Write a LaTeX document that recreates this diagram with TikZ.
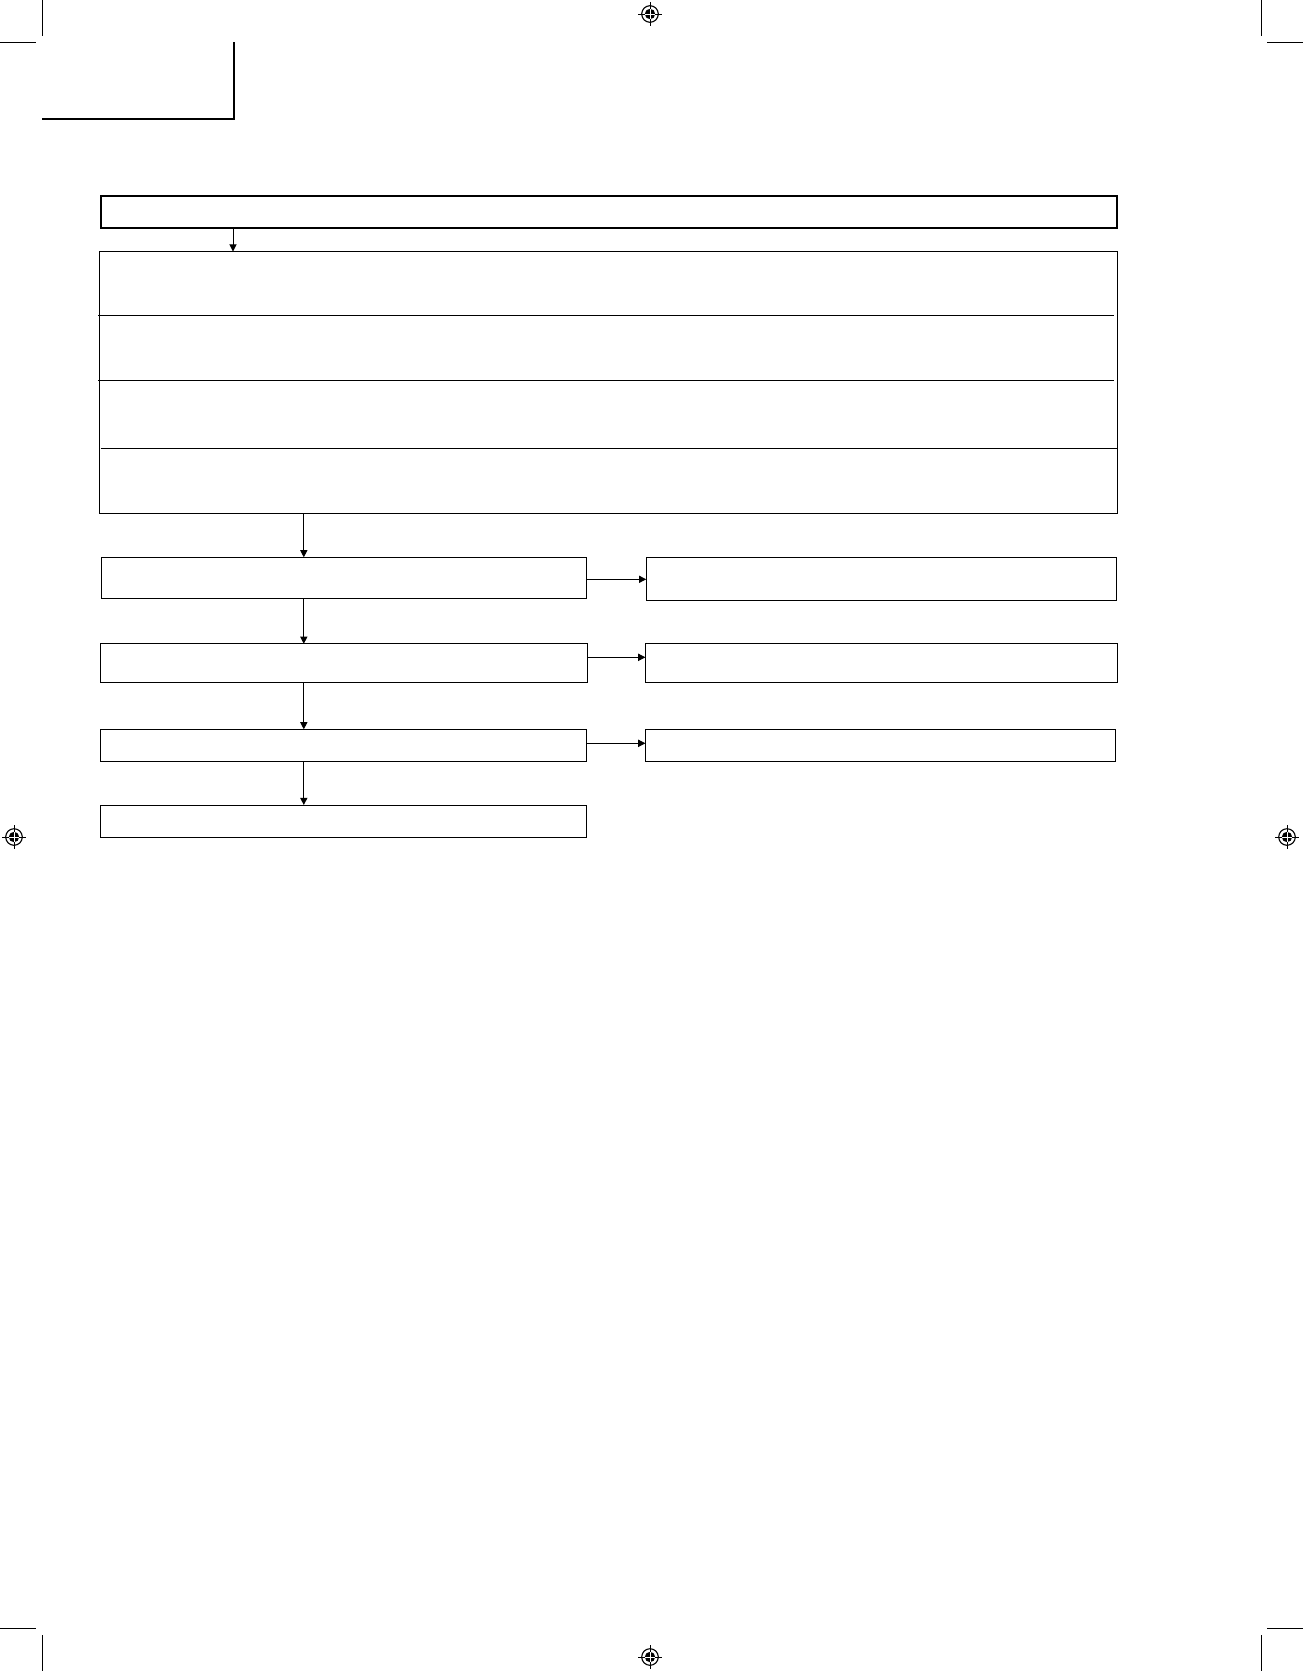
\documentclass[tikz,border=0pt]{standalone}
\usetikzlibrary{arrows.meta}
\tikzset{
  box/.style={draw, rectangle, line width=0.5pt, inner sep=0pt, outer sep=0pt},
  thickbox/.style={box, line width=1.1pt},
  arr/.style={line width=0.5pt, -{Triangle[length=3.6pt,width=3.6pt]}},
  thin line/.style={line width=0.5pt},
  crop/.style={line width=0.5pt},
  frame/.style={line width=1pt},
}
\newcommand{\regmark}[2]{%
  \fill[black] (#1,#2) circle[radius=5.2];
  \draw[line width=0.55pt] (#1,#2) circle[radius=8.3];
  \draw[line width=0.45pt] (#1-12,#2) -- (#1+12,#2);
  \draw[line width=0.45pt] (#1,#2-12) -- (#1,#2+12);
  \draw[white,line width=0.2pt] (#1-4.6,#2) -- (#1+4.6,#2);
  \draw[white,line width=0.2pt] (#1,#2-4.6) -- (#1,#2+4.6);
}
\begin{document}
\begin{tikzpicture}[x=0.5pt,y=-0.5pt]
\useasboundingbox (0,0) rectangle (1303,1671);
% crop marks
\draw[crop] (42,0) -- (42,36);
\draw[crop] (0,42) -- (36,42);
\draw[crop] (1261,0) -- (1261,36);
\draw[crop] (1267,42) -- (1303,42);
\draw[crop] (42,1635) -- (42,1671);
\draw[crop] (0,1628) -- (36,1628);
\draw[crop] (1261,1635) -- (1261,1671);
\draw[crop] (1267,1628) -- (1303,1628);
% registration marks
\regmark{650}{14}
\regmark{14}{837}
\regmark{1287}{837}
\regmark{650}{1657}
% heading frame
\draw[frame] (42,119) -- (234,119) -- (234,42);
% boxes
\node[thickbox, minimum width=508pt, minimum height=16pt] (top) at (609,212) {};
\node[box, minimum width=509.2pt, minimum height=130.75pt] (big) at (608.5,382.25) {};
\draw[thin line] (98.3,315.7) -- (1113.7,315.7);
\draw[thin line] (98.3,380.3) -- (1113.7,380.3);
\draw[thin line] (100.7,448.3) -- (1117.7,448.3);
\node[box, minimum width=242.55pt, minimum height=20.5pt] (r1l) at (344,577.8) {};
\node[box, minimum width=235.05pt, minimum height=21.5pt] (r1r) at (881.25,578.8) {};
\node[box, minimum width=243.55pt, minimum height=19.5pt] (r2l) at (344.15,663.3) {};
\node[box, minimum width=235.95pt, minimum height=19.3pt] (r2r) at (881.35,663) {};
\node[box, minimum width=242.95pt, minimum height=16pt] (r3l) at (343.55,745.3) {};
\node[box, minimum width=234.95pt, minimum height=16pt] (r3r) at (880.35,745.3) {};
\node[box, minimum width=242.95pt, minimum height=16.15pt] (r4l) at (343.55,821.15) {};
% connector guides
\coordinate (ax0) at (233,0);
\coordinate (ax) at (303.8,0);
\coordinate (ay1) at (0,579.3);
\coordinate (ay2) at (0,657.3);
\coordinate (ay3) at (0,743.3);
% connectors
\draw[arr] (top.south -| ax0) -- (big.north -| ax0);
\draw[arr] (big.south -| ax) -- (r1l.north -| ax);
\draw[arr] (r1l.south -| ax) -- (r2l.north -| ax);
\draw[arr] (r2l.south -| ax) -- (r3l.north -| ax);
\draw[arr] (r3l.south -| ax) -- (r4l.north -| ax);
\draw[arr] (r1l.east |- ay1) -- (r1r.west |- ay1);
\draw[arr] (r2l.east |- ay2) -- (r2r.west |- ay2);
\draw[arr] (r3l.east |- ay3) -- (r3r.west |- ay3);
\end{tikzpicture}
\end{document}
